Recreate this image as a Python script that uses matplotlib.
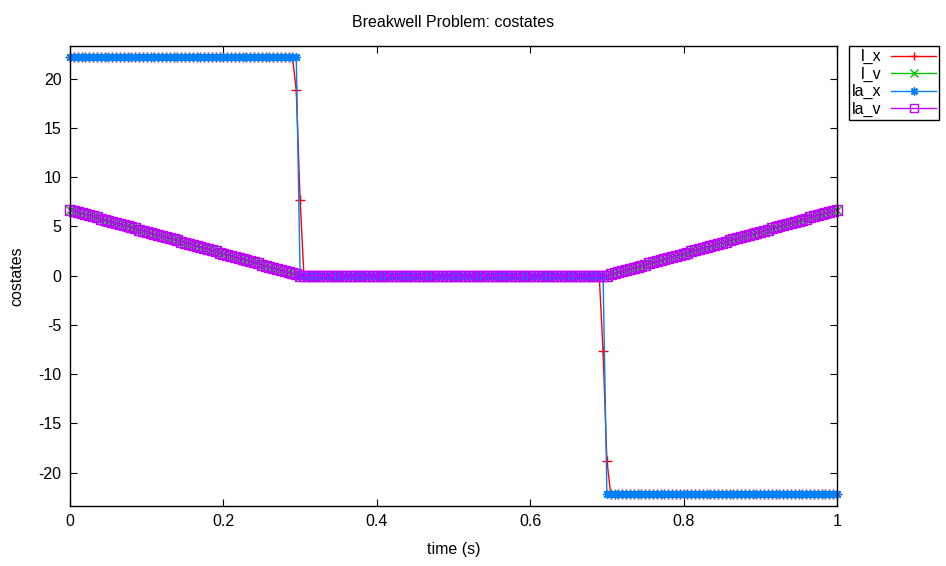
import numpy as np
import matplotlib
matplotlib.use("Agg")
import matplotlib.pyplot as plt

plt.rcParams['font.family'] = ['Liberation Sans', 'DejaVu Sans']
plt.rcParams['axes.unicode_minus'] = False

# time grid of the solver (201 nodes, dt = 0.005)
t = np.linspace(0.0, 1.0, 201)

# velocity costate: falls from 6.67 to 0 over [0, 0.3], zero arc, then rises again
ramp_down = [6.67, 6.56, 6.44, 6.33, 6.22, 6.11, 6.00, 5.89, 5.78, 5.67,
             5.56, 5.44, 5.33, 5.22, 5.11, 5.00, 4.89, 4.78, 4.67, 4.56,
             4.44, 4.33, 4.22, 4.11, 4.00, 3.89, 3.78, 3.67, 3.56, 3.44,
             3.33, 3.22, 3.11, 3.00, 2.89, 2.78, 2.67, 2.56, 2.44, 2.33,
             2.22, 2.11, 2.00, 1.89, 1.78, 1.67, 1.56, 1.44, 1.33, 1.22,
             1.11, 1.00, 0.89, 0.78, 0.67, 0.56, 0.44, 0.33, 0.22, 0.11,
             0.00]
l_v = ramp_down + [0.0] * 79 + ramp_down[::-1]
la_v = list(l_v)

# position costate
l_x = [22.22] * 59 + [18.8, 7.7] + [0.0] * 78 + [-7.7, -18.8] + [-22.22] * 60
la_x = [22.22] * 60 + [0.0] * 80 + [-22.22] * 61

labels = ["l_x", "l_v", "la_x", "la_v"]
colors = ["#ff0000", "#00c000", "#0080ff", "#c000ff"]
markers = ["+", "x", (8, 2, 0), "s"]

fs = 11.5

fig = plt.figure(figsize=(9.46, 5.66), dpi=100)
ax = fig.add_axes([70 / 946, 1 - 506 / 566, (837 - 70) / 946, (506 - 46) / 566])

for y, lab, c, m in zip([l_x, l_v, la_x, la_v], labels, colors, markers):
    ax.plot(t, y, color=c, marker=m, markersize=6.5, markeredgewidth=1.0,
            markerfacecolor='none', linewidth=1.0, label=lab, clip_on=False)

ax.set_xlim(0, 1)
ax.set_ylim(-23.4, 23.3)
ax.set_xticks([0, 0.2, 0.4, 0.6, 0.8, 1])
ax.set_xticklabels(["0", "0.2", "0.4", "0.6", "0.8", "1"])
ax.set_yticks(range(-20, 21, 5))
ax.tick_params(direction='in', top=True, right=True, length=5, width=0.8,
               labelsize=fs, pad=6)
for s in ax.spines.values():
    s.set_linewidth(1.0)

ax.set_title("Breakwell Problem: costates", fontsize=fs, pad=14)
ax.set_xlabel("time (s)", fontsize=fs, labelpad=9)
ax.set_ylabel("costates", fontsize=fs, labelpad=10)

leg = ax.legend(loc='upper left', bbox_to_anchor=(849 / 946, 1 - 46 / 566),
                bbox_transform=fig.transFigure, borderaxespad=0,
                markerfirst=False, fancybox=False, edgecolor='black',
                framealpha=1, fontsize=11.5, handlelength=2.8,
                handletextpad=0.6, labelspacing=0.15, borderpad=0.2,
                markerscale=0.9)
leg.get_frame().set_linewidth(1.0)
leg._legend_box._children[-1]._children[0].align = "right"

fig.savefig("out.png", dpi=100)
